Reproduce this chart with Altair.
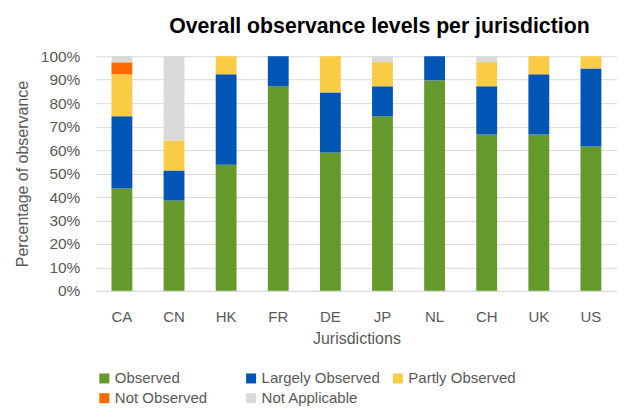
import altair as alt
import pandas as pd

jurisdictions = ["CA", "CN", "HK", "FR", "DE", "JP", "NL", "CH", "UK", "US"]
levels = ["Observed", "Largely Observed", "Partly Observed", "Not Observed", "Not Applicable"]
colors = ["#66992B", "#0055B5", "#FACC45", "#FF6A00", "#D9D9D9"]

observed = [43.6, 38.5, 53.8, 87.2, 59.0, 74.4, 89.7, 66.7, 66.7, 61.5]
largely_observed = [30.8, 12.8, 38.5, 12.8, 25.6, 12.8, 10.3, 20.5, 25.6, 33.3]
partly_observed = [17.9, 12.8, 7.7, 0.0, 15.4, 10.3, 0.0, 10.3, 7.7, 5.2]
not_observed = [5.1, 0.0, 0.0, 0.0, 0.0, 0.0, 0.0, 0.0, 0.0, 0.0]
not_applicable = [2.6, 35.9, 0.0, 0.0, 0.0, 2.5, 0.0, 2.5, 0.0, 0.0]
y_ticks = [0.0, 0.1, 0.2, 0.3, 0.4, 0.5, 0.6, 0.7, 0.8, 0.9, 1.0]

series = [observed, largely_observed, partly_observed, not_observed, not_applicable]
rows = []
for li, (lvl, vals) in enumerate(zip(levels, series)):
    for j, v in zip(jurisdictions, vals):
        rows.append({"Jurisdiction": j, "Level": lvl, "order": li, "value": v / 100.0})
df = pd.DataFrame(rows)

FONT = "Liberation Sans"
GREY = "#595959"

chart = alt.Chart(df).mark_bar().encode(
    x=alt.X("Jurisdiction:N", sort=jurisdictions,
            scale=alt.Scale(paddingInner=0.6, paddingOuter=0.3),
            axis=alt.Axis(title="Jurisdictions", labelAngle=0, ticks=False,
                          domainColor="#D9D9D9", labelPadding=19, titlePadding=6,
                          labelFontSize=15, titleFontSize=16, labelColor=GREY,
                          titleColor=GREY, titleFontWeight="normal")),
    y=alt.Y("value:Q", stack="zero",
            scale=alt.Scale(domain=[0, 1]),
            axis=alt.Axis(title="Percentage of observance", format=".0%",
                          values=y_ticks, labelOverlap=False,
                          ticks=False, domain=False, gridColor="#D9D9D9",
                          labelPadding=16, titlePadding=10,
                          labelFontSize=15.5, titleFontSize=16, labelColor=GREY,
                          titleColor=GREY, titleFontWeight="normal")),
    color=alt.Color("Level:N", sort=levels,
                    scale=alt.Scale(domain=levels, range=colors),
                    legend=alt.Legend(title=None, orient="none", legendX=1, legendY=315,
                                      columns=3, gridAlign="all", direction="horizontal",
                                      symbolType="square", symbolSize=100,
                                      symbolStrokeWidth=0, labelFontSize=15,
                                      labelColor=GREY, columnPadding=10, rowPadding=4,
                                      labelOffset=3, padding=0)),
    order=alt.Order("order:Q"),
).properties(
    width=522, height=235,
    autosize=alt.AutoSizeParams(type="none"),
    padding={"left": 88, "top": 48, "right": 0, "bottom": 116},
    title=alt.TitleParams("Overall observance levels per jurisdiction", fontSize=21.3,
                          font=FONT, fontWeight="bold", color="#000000",
                          anchor="middle", dx=23, offset=12),
).configure(font=FONT).configure_view(stroke=None)

chart.save("out.html", embed_options={"renderer": "svg", "actions": False})
